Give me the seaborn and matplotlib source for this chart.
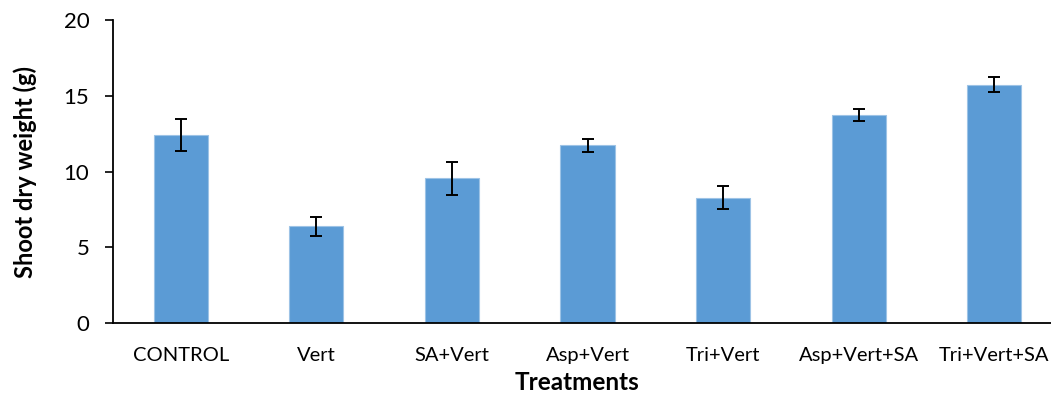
import matplotlib
matplotlib.use("Agg")
import matplotlib.pyplot as plt
import seaborn as sns
import pandas as pd
import numpy as np

treatments = ["CONTROL", "Vert", "SA+Vert", "Asp+Vert", "Tri+Vert", "Asp+Vert+SA", "Tri+Vert+SA"]
shoot_dry_weight = [12.45, 6.38, 9.56, 11.74, 8.28, 13.75, 15.74]
std_error = [1.05, 0.62, 1.10, 0.41, 0.77, 0.41, 0.50]
y_ticks = [0, 5, 10, 15, 20]

sns.set_theme(style="white")
plt.rcParams["font.family"] = ["Lato", "DejaVu Sans"]

df = pd.DataFrame({"Treatment": treatments, "Weight": shoot_dry_weight, "SE": std_error})

fig = plt.figure(figsize=(10.51, 3.94), dpi=100)
ax = fig.add_axes([0.1075, 0.1802, 0.903, 0.768])

sns.barplot(data=df, x="Treatment", y="Weight", color="#5B9BD5", saturation=1,
            width=0.4, edgecolor="#9DC3E6", linewidth=0.8, errorbar=None, ax=ax)
ax.errorbar(np.arange(len(treatments)), df["Weight"], yerr=df["SE"], fmt="none",
            ecolor="black", elinewidth=1.4, capsize=4.3, capthick=1.4)

ax.set_xlim(-0.5, len(treatments) - 0.5)
ax.set_ylim(0, 20)
ax.set_yticks(y_ticks)
ax.tick_params(axis="y", direction="out", length=6, width=1.2, left=True, labelsize=16, colors="black", pad=11)
ax.tick_params(axis="x", length=0, labelsize=14.5, colors="black", pad=17)

for side in ["top", "right"]:
    ax.spines[side].set_visible(False)
for side in ["left", "bottom"]:
    ax.spines[side].set_color("black")
    ax.spines[side].set_linewidth(1.3)

ax.set_xlabel("Treatments", fontsize=17.5, fontweight="bold", color="black")
ax.xaxis.set_label_coords(0.489, -0.158)
ax.set_ylabel("Shoot dry weight (g)", fontsize=17, fontweight="bold", color="black", labelpad=19)

fig.savefig("out.png", dpi=100)
